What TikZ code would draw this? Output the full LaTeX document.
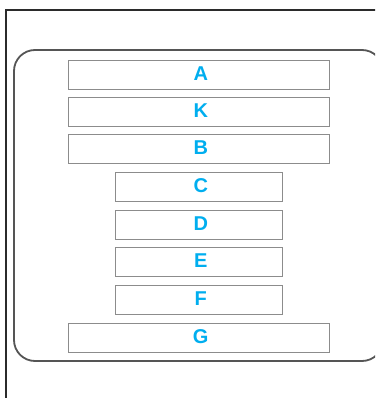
\documentclass[tikz,border=0pt]{standalone}
\usepackage{fontspec}
\setmainfont{Liberation Sans}
\definecolor{lblcyan}{HTML}{00AEEF}
\definecolor{boxgray}{HTML}{8C8C8C}
\definecolor{framegray}{HTML}{555555}
\definecolor{outerdark}{HTML}{2B2B2B}
\newcommand{\barlbl}[1]{\raisebox{2pt}{\hspace*{3.5pt}#1}}
\tikzset{
  bar/.style={draw=boxgray, line width=1pt, fill=white, minimum height=29pt, inner sep=0pt,
    font=\fontsize{20}{20}\selectfont\bfseries, text=lblcyan, anchor=north west},
  widebar/.style={bar, minimum width=261pt},
  narrowbar/.style={bar, minimum width=167pt},
}
\begin{document}
\begin{tikzpicture}[x=1pt,y=-1pt]
\useasboundingbox (0,0) rectangle (375,398);
\begin{scope}
\clip (0,0) rectangle (375,398);
\draw[outerdark, line width=1.6pt] (6,420) |- (400,10);
\draw[framegray, line width=1.8pt, rounded corners=21pt] (14,50) rectangle (383,361);
\end{scope}
\node[widebar] (A) at (68,60) {\barlbl{A}};
\node[widebar] (K) at (68,97) {\barlbl{K}};
\node[widebar] (B) at (68,134) {\barlbl{B}};
\node[narrowbar] (C) at (115,172) {\barlbl{C}};
\node[narrowbar] (D) at (115,210) {\barlbl{D}};
\node[narrowbar] (E) at (115,247) {\barlbl{E}};
\node[narrowbar] (F) at (115,285) {\barlbl{F}};
\node[widebar] (G) at (68,323) {\barlbl{G}};
\end{tikzpicture}
\end{document}
